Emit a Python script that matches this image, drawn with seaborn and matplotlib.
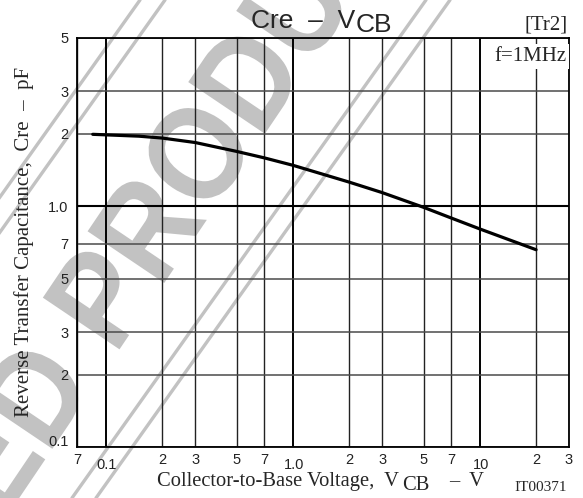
import numpy as np
import pandas as pd
import matplotlib
matplotlib.use("Agg")
import matplotlib.pyplot as plt
from matplotlib.lines import Line2D
from matplotlib.transforms import ScaledTranslation, Affine2D
from matplotlib.textpath import TextPath
from matplotlib.font_manager import FontProperties
from matplotlib.patches import PathPatch
import seaborn as sns

# ---- data ----
vcb = [0.085, 0.1, 0.15, 0.2, 0.3, 0.5, 0.7, 1.0, 2.0, 3.0, 5.0, 7.0, 10.0, 20.0]
cre = [1.99, 1.98, 1.955, 1.92, 1.84, 1.69, 1.59, 1.48, 1.26, 1.14, 0.99, 0.895, 0.805, 0.66]

x_ticks = [0.07, 0.1, 0.2, 0.3, 0.5, 0.7, 1.0, 2, 3, 5, 7, 10, 20, 30]
x_labels = ['7', '0.1', '2', '3', '5', '7', '1.0', '2', '3', '5', '7', '10', '2', '3']
y_ticks = [0.1, 0.2, 0.3, 0.5, 0.7, 1.0, 2, 3, 5]
y_labels = ['0.1', '2', '3', '5', '7', '1.0', '2', '3', '5']

title_main = 'Cre  –  V'
title_sub = 'CB'
xlabel_main = 'Collector-to-Base Voltage,  V'
xlabel_sub = 'CB'
xlabel_tail = '–  V'
ylabel = 'Reverse Transfer Capacitance,  Cre  –  pF'
tag = '[Tr2]'
cond = 'f=1MHz'
code = 'IT00371'
watermark = 'ED PRODUCT'

df = pd.DataFrame({'VCB': vcb, 'Cre': cre})

sns.set_style('white')
plt.rcParams['font.family'] = ['Liberation Sans', 'DejaVu Sans']

W, H = 583, 498
fig = plt.figure(figsize=(W / 100, H / 100), dpi=100)

def fx(px):
    return px / W

def fy(py):
    return 1 - py / H

# ---- watermark (behind everything) ----
wm_color = '#c2c2c2'
for (x0, x1) in [(140, -214), (165, -189), (426, 72), (450, 96)]:
    fig.add_artist(Line2D([fx(x0), fx(x1)], [fy(0), fy(498)], color=wm_color,
                          lw=2.4, zorder=-5))
fp = FontProperties(family='Liberation Sans', weight='bold')
em = 120
tp = TextPath((0, 0), watermark, size=em, prop=fp)
offset = (TextPath((0, 0), 'ED P', size=em, prop=fp).get_extents().x1
          - TextPath((0, 0), 'P', size=em, prop=fp).get_extents().x1)
wm_tr = (Affine2D().translate(-offset, 0).scale(1.0, 1.12)
         .rotate_deg(56).translate(115, H - 356))
patch = PathPatch(tp, facecolor=wm_color, edgecolor='none', zorder=-5)
patch.set_transform(wm_tr)
fig.add_artist(patch)

ax = fig.add_axes([fx(77), fy(447), fx(569) - fx(77), fy(38) - fy(447)])
ax.set_facecolor('none')
ax.set_xscale('log')
ax.set_yscale('log')
ax.set_xlim(0.07, 30)
ax.set_ylim(0.1, 5)

sns.lineplot(data=df, x='VCB', y='Cre', ax=ax, color='black', lw=2.3,
             sort=False, zorder=5)

ax.xaxis.set_major_locator(matplotlib.ticker.FixedLocator(x_ticks))
ax.xaxis.set_minor_locator(matplotlib.ticker.NullLocator())
ax.yaxis.set_major_locator(matplotlib.ticker.FixedLocator(y_ticks))
ax.yaxis.set_minor_locator(matplotlib.ticker.NullLocator())
ax.set_xticklabels(x_labels)
ax.set_yticklabels(y_labels)
ax.tick_params(axis='both', length=0, labelsize=10.5, colors='#222222')
ax.tick_params(axis='x', pad=4)
ax.tick_params(axis='y', pad=6)
ax.grid(True, which='major', axis='x', color='#222222', lw=1.0)
ax.grid(True, which='major', axis='y', color='#4a4a4a', lw=1.1)
for t, gl in zip(x_ticks, ax.xaxis.get_gridlines()):
    if t in (0.1, 1.0, 10):
        gl.set_linewidth(1.4)
        gl.set_color('black')
for t, gl in zip(y_ticks, ax.yaxis.get_gridlines()):
    if t == 1.0:
        gl.set_linewidth(1.5)
        gl.set_color('black')

for t, lbl in zip(x_ticks, ax.get_xticklabels()):
    if t in (0.1, 1.0, 10):
        lbl.set_transform(lbl.get_transform() + ScaledTranslation(0.01, -0.05, fig.dpi_scale_trans))
for t, lbl in zip(y_ticks, ax.get_yticklabels()):
    if t == 0.1:
        lbl.set_transform(lbl.get_transform() + ScaledTranslation(0, 0.06, fig.dpi_scale_trans))

for s in ax.spines.values():
    s.set_color('black')
    s.set_linewidth(1.3)
ax.set_xlabel('')
ax.set_ylabel('')

# ---- texts ----
fig.text(fx(251), fy(28), title_main, fontsize=19, family='Liberation Sans',
         ha='left', va='baseline')
fig.text(fx(356), fy(32), title_sub, fontsize=19, family='Liberation Sans',
         ha='left', va='baseline')
fig.text(fx(568), fy(29), tag, fontsize=15, family='Liberation Serif',
         ha='right', va='baseline')
ax.text(0.995, 0.978, cond, transform=ax.transAxes, fontsize=15,
        family='Liberation Serif', ha='right', va='top', zorder=10,
        bbox=dict(facecolor='white', edgecolor='none', pad=2))

fig.text(fx(157), fy(486), xlabel_main, fontsize=14.8, family='Liberation Serif',
         ha='left', va='baseline')
fig.text(fx(402), fy(490), xlabel_sub, fontsize=14.8, family='Liberation Serif',
         ha='left', va='baseline')
fig.text(fx(449), fy(486), xlabel_tail, fontsize=14.8, family='Liberation Serif',
         ha='left', va='baseline')
fig.text(fx(567), fy(491), code, fontsize=11, family='Liberation Serif',
         ha='right', va='baseline')
fig.text(fx(24), fy(242), ylabel, fontsize=15, family='Liberation Serif',
         rotation=90, ha='center', va='center')

fig.savefig('out.png', dpi=100)
